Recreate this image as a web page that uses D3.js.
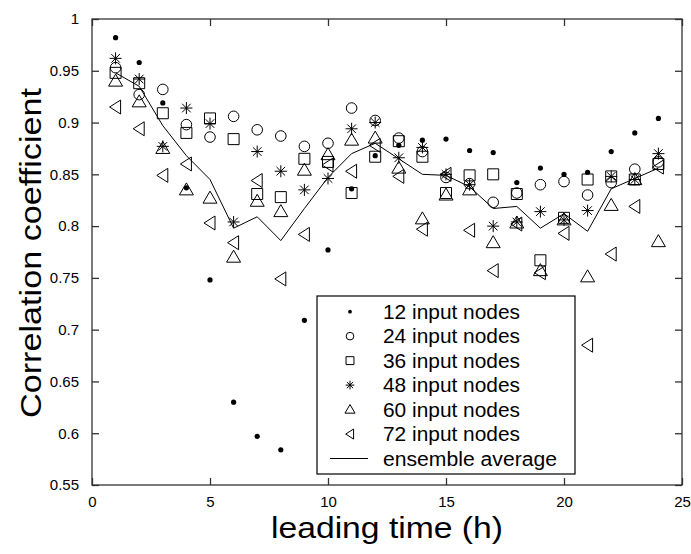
<!DOCTYPE html>
<html lang="en">
<head>
<meta charset="utf-8">
<title>Correlation coefficient vs leading time</title>
<script src="https://d3js.org/d3.v7.min.js"></script>
<style>
  body { margin: 0; background: #fff; }
  svg { display: block; font-family: "Liberation Sans", Arial, sans-serif; }
  .tick text { font-size: 15px; fill: #000; }
  .mark { fill: none; stroke: #000; stroke-width: 1; }
</style>
</head>
<body>
<svg id="chart" width="691" height="554"></svg>
<script>
// leading time (h)
const hours = [1, 2, 3, 4, 5, 6, 7, 8, 9, 10, 11, 12, 13, 14, 15, 16, 17, 18, 19, 20, 21, 22, 23, 24];

// correlation coefficient per number of input nodes
const nodes12 = [0.982, 0.958, 0.919, 0.837, 0.748, 0.630, 0.597, 0.584, 0.709, 0.777, 0.836, 0.868,
                 0.878, 0.883, 0.884, 0.873, 0.871, 0.842, 0.856, 0.850, 0.852, 0.872, 0.890, 0.904];
const nodes24 = [0.953, 0.927, 0.932, 0.898, 0.886, 0.906, 0.893, 0.887, 0.877, 0.880, 0.914, 0.902,
                 0.885, 0.872, 0.847, 0.841, 0.823, 0.832, 0.840, 0.843, 0.830, 0.842, 0.855, 0.862];
const nodes36 = [0.948, 0.938, 0.909, 0.890, 0.904, 0.884, 0.831, 0.828, 0.865, 0.862, 0.832, 0.867,
                 0.882, 0.867, 0.832, 0.849, 0.850, 0.831, 0.767, 0.808, 0.845, 0.848, 0.845, 0.860];
const nodes48 = [0.962, 0.942, 0.877, 0.914, 0.899, 0.804, 0.872, 0.853, 0.835, 0.846, 0.894, 0.900,
                 0.866, 0.876, 0.850, 0.840, 0.800, 0.804, 0.814, 0.806, 0.815, 0.848, 0.845, 0.870];
const nodes60 = [0.940, 0.920, 0.875, 0.835, 0.827, 0.770, 0.824, 0.814, 0.854, 0.869, 0.883, 0.885,
                 0.856, 0.807, 0.830, 0.835, 0.784, 0.803, 0.757, 0.806, 0.751, 0.820, 0.845, 0.785];
const nodes72 = [0.915, 0.894, 0.849, 0.860, 0.803, 0.784, 0.844, 0.749, 0.792, 0.859, 0.853, 0.878,
                 0.848, 0.797, 0.850, 0.796, 0.757, 0.802, 0.755, 0.793, 0.685, 0.773, 0.819, 0.857];
const ensemble = [0.948, 0.935, 0.897, 0.868, 0.845, 0.798, 0.809, 0.786, 0.817, 0.847, 0.870, 0.880,
                  0.865, 0.850, 0.849, 0.838, 0.817, 0.819, 0.798, 0.812, 0.795, 0.836, 0.846, 0.856];

const seriesNames = ['12 input nodes', '24 input nodes', '36 input nodes',
                     '48 input nodes', '60 input nodes', '72 input nodes'];
const seriesMarks = ['dot', 'circle', 'square', 'star', 'triangle', 'left'];
const seriesValues = [nodes12, nodes24, nodes36, nodes48, nodes60, nodes72];

const xTicks = [0, 5, 10, 15, 20, 25];
const yTicks = [0.55, 0.6, 0.65, 0.7, 0.75, 0.8, 0.85, 0.9, 0.95, 1];

const svg = d3.select('#chart');
const plotL = 92, plotR = 682, plotT = 19, plotB = 485;

const x = d3.scaleLinear().domain([0, 25]).range([plotL, plotR]);
const y = d3.scaleLinear().domain([0.55, 1]).range([plotB, plotT]);

// marker shapes, k scales them (legend uses smaller ones)
function markPath(type, k) {
  const p = d3.path();
  if (type === 'circle') {
    p.arc(0, 0, 5.3 * k, 0, 2 * Math.PI);
  } else if (type === 'square') {
    const h = 5.5 * k;
    p.rect(-h, -h, 2 * h, 2 * h);
  } else if (type === 'star') {
    const a = 6 * k, b = 4.3 * k;
    p.moveTo(-a, 0); p.lineTo(a, 0);
    p.moveTo(0, -a); p.lineTo(0, a);
    p.moveTo(-b, -b); p.lineTo(b, b);
    p.moveTo(-b, b); p.lineTo(b, -b);
  } else if (type === 'triangle') {
    p.moveTo(0, -7 * k); p.lineTo(7 * k, 5 * k); p.lineTo(-7 * k, 5 * k); p.closePath();
  } else if (type === 'left') {
    p.moveTo(-6 * k, 0); p.lineTo(5 * k, -7 * k); p.lineTo(5 * k, 7 * k); p.closePath();
  }
  return p.toString();
}

function drawMark(g, type, k) {
  if (type === 'dot') {
    g.append('circle').attr('r', 2.6 * k).attr('fill', '#000');
  } else {
    g.append('path').attr('class', 'mark').attr('d', markPath(type, k));
  }
}

// ensemble average line
svg.append('path')
  .datum(hours)
  .attr('fill', 'none')
  .attr('stroke', '#000')
  .attr('stroke-width', 1)
  .attr('d', d3.line().x(d => x(d)).y((d, i) => y(ensemble[i])));

// scatter markers
seriesValues.forEach((vals, s) => {
  svg.append('g').selectAll('g')
    .data(hours)
    .join('g')
    .attr('transform', (d, i) => `translate(${x(d)},${y(vals[i])})`)
    .each(function () { drawMark(d3.select(this), seriesMarks[s], 1); });
});

// axes, MATLAB style box with inward ticks
const axisColor = '#333';
const xAxis = svg.append('g')
  .attr('transform', `translate(0,${plotB})`)
  .call(d3.axisBottom(x).tickValues(xTicks).tickSize(-7).tickPadding(14).tickFormat(d3.format('d')));
const xTop = svg.append('g')
  .attr('transform', `translate(0,${plotT})`)
  .call(d3.axisTop(x).tickValues(xTicks).tickSize(-7).tickFormat(''));
const yAxis = svg.append('g')
  .attr('transform', `translate(${plotL},0)`)
  .call(d3.axisLeft(y).tickValues(yTicks).tickSize(-7).tickPadding(13).tickFormat(d => String(+d.toFixed(2))));
const yRight = svg.append('g')
  .attr('transform', `translate(${plotR},0)`)
  .call(d3.axisRight(y).tickValues(yTicks).tickSize(-7).tickFormat(''));

[xAxis, xTop, yAxis, yRight].forEach(a => {
  a.select('.domain').remove();
  a.selectAll('.tick line').attr('stroke', axisColor).attr('stroke-width', 1.3);
});
xAxis.selectAll('.tick text').attr('dy', '0.5em');

svg.append('rect')
  .attr('x', plotL).attr('y', plotT)
  .attr('width', plotR - plotL).attr('height', plotB - plotT)
  .attr('fill', 'none').attr('stroke', axisColor).attr('stroke-width', 1.3);

// axis titles
svg.append('text')
  .attr('x', (plotL + plotR) / 2).attr('y', 538)
  .attr('text-anchor', 'middle')
  .attr('font-size', 29)
  .attr('textLength', 232).attr('lengthAdjust', 'spacingAndGlyphs')
  .text('leading time (h)');

svg.append('text')
  .attr('transform', 'translate(41,253) rotate(-90)')
  .attr('text-anchor', 'middle')
  .attr('font-size', 29)
  .attr('textLength', 330).attr('lengthAdjust', 'spacingAndGlyphs')
  .text('Correlation coefficient');

// legend
const legend = svg.append('g');
legend.append('rect')
  .attr('x', 317).attr('y', 296).attr('width', 258).attr('height', 178)
  .attr('fill', '#fff').attr('stroke', '#000').attr('stroke-width', 1.2);

const rowY = d3.scaleLinear().domain([0, 6]).range([311.7, 458.5]);
const legendNames = seriesNames.concat(['ensemble average']);

legendNames.forEach((name, i) => {
  const row = legend.append('g').attr('transform', `translate(0,${rowY(i)})`);
  if (i < seriesMarks.length) {
    const m = row.append('g').attr('transform', 'translate(350,0)');
    drawMark(m, seriesMarks[i], 0.72);
  } else {
    row.append('line').attr('x1', 330).attr('x2', 368).attr('stroke', '#000').attr('stroke-width', 1);
  }
  row.append('text')
    .attr('x', 383).attr('dy', '0.36em')
    .attr('font-size', 20)
    .attr('textLength', name === 'ensemble average' ? 174 : 137)
    .attr('lengthAdjust', 'spacingAndGlyphs')
    .text(name);
});
</script>
</body>
</html>
